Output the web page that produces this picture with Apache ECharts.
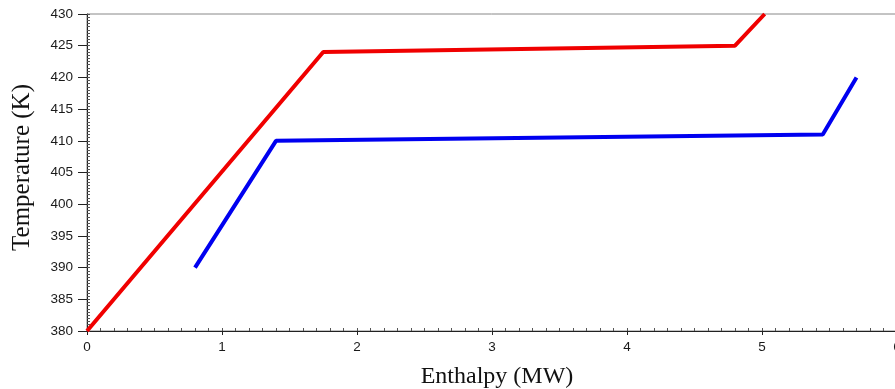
<!DOCTYPE html>
<html>
<head>
<meta charset="utf-8">
<script src="https://cdn.jsdelivr.net/npm/echarts@6/dist/echarts.min.js"></script>
<style>
  html, body { margin: 0; padding: 0; background: #fff; }
  #chart { width: 895px; height: 389px; }
</style>
</head>
<body>
<div id="chart"></div>
<script>
// hot stream (red): enthalpy MW / temperature K
const hotEnthalpy = [0, 1.75, 4.8, 5.02];
const hotTemp = [380, 424, 425, 430];
// cold stream (blue)
const coldEnthalpy = [0.8, 1.4, 5.45, 5.7];
const coldTemp = [390, 410, 411, 420];

const xTicks = [0, 1, 2, 3, 4, 5, 6];
const yTicks = [380, 385, 390, 395, 400, 405, 410, 415, 420, 425, 430];

const toPairs = (xs, ys) => xs.map((x, i) => [x, ys[i]]);

const labelFont = {
  color: '#1a1a1a',
  fontSize: 13.5,
  fontFamily: 'Liberation Sans, Arial, sans-serif',
};
const nameFont = {
  color: '#111',
  fontSize: 24,
  fontFamily: 'Liberation Serif, Times New Roman, serif',
};

// second axis on the same side, only for the inside comb of small ticks
const combAxis = (min, max, interval, position) => ({
  type: 'value',
  position,
  min,
  max,
  interval,
  axisLine: { show: false },
  axisTick: { show: true, inside: true, length: 3, lineStyle: { color: '#555' } },
  minorTick: { show: true, splitNumber: 10, length: 3, lineStyle: { color: '#555' } },
  axisLabel: { show: false },
  splitLine: { show: false },
});

const chart = echarts.init(document.getElementById('chart'));

const option = {
  animation: false,
  grid: {
    left: 87,
    right: -2,
    top: 14,
    bottom: 58,
    outerBoundsMode: 'none',
    containLabel: false,
    show: true,
    borderColor: '#888',
    borderWidth: 1,
  },
  xAxis: [
    {
      type: 'value',
      min: xTicks[0],
      max: xTicks[xTicks.length - 1],
      interval: 1,
      name: 'Enthalpy (MW)',
      nameLocation: 'middle',
      nameGap: 34,
      nameTextStyle: { ...nameFont, padding: [0, 0, 0, 10] },
      axisLine: { lineStyle: { color: '#222', width: 1 } },
      axisTick: { show: true, length: 4, lineStyle: { color: '#222' } },
      axisLabel: { ...labelFont, margin: 9 },
      splitLine: { show: false },
    },
    combAxis(xTicks[0], xTicks[xTicks.length - 1], 1, 'bottom'),
  ],
  yAxis: [
    {
      type: 'value',
      min: yTicks[0],
      max: yTicks[yTicks.length - 1],
      interval: 5,
      name: 'Temperature (K)',
      nameLocation: 'middle',
      nameGap: 52,
      nameTextStyle: { ...nameFont, fontSize: 25, padding: [0, 0, 0, 10] },
      axisLine: { show: true, lineStyle: { color: '#222', width: 1 } },
      axisTick: { show: true, length: 9, lineStyle: { color: '#222' } },
      axisLabel: { ...labelFont, margin: 14 },
      splitLine: { show: false },
    },
    combAxis(yTicks[0], yTicks[yTicks.length - 1], 5, 'left'),
  ],
  series: [
    {
      type: 'line',
      data: toPairs(hotEnthalpy, hotTemp),
      showSymbol: false,
      lineStyle: { color: '#f00000', width: 4 },
      clip: true,
    },
    {
      type: 'line',
      data: toPairs(coldEnthalpy, coldTemp),
      showSymbol: false,
      lineStyle: { color: '#0000f0', width: 4 },
      clip: true,
    },
  ],
};

chart.setOption(option);
</script>
</body>
</html>
